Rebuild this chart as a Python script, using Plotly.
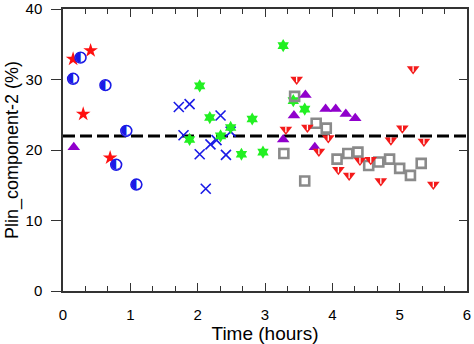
import plotly.graph_objects as go

# Time (hours) / Plin component-2 (%) per group
circ_x = [0.26, 0.15, 0.63, 0.94, 0.79, 1.09]
circ_y = [33.1, 30.1, 29.2, 22.7, 17.9, 15.1]

star_x = [0.15, 0.41, 0.30, 0.70]
star_y = [32.9, 34.1, 25.1, 18.9]

xm_x = [1.72, 1.88, 1.79, 2.34, 2.03, 2.19, 2.28, 2.42, 2.12, 2.49]
xm_y = [26.1, 26.5, 22.1, 24.9, 19.4, 20.8, 21.4, 19.3, 14.5, 22.6]

hex_x = [2.03, 2.18, 2.81, 2.49, 1.88, 2.34, 2.65, 2.97, 3.27, 3.42, 3.59]
hex_y = [29.1, 24.6, 24.4, 23.2, 21.5, 22.0, 19.4, 19.7, 34.8, 27.0, 25.8]

tri_x = [0.16, 3.27, 3.43, 3.60, 3.74, 3.90, 4.05, 4.20, 4.34]
tri_y = [20.4, 21.5, 24.9, 27.8, 20.4, 25.8, 25.8, 25.1, 24.5]

sq_x = [3.28, 3.44, 3.59, 3.76, 3.91, 4.07, 4.23, 4.38, 4.54, 4.69, 4.85, 5.00, 5.16, 5.32]
sq_y = [19.5, 27.6, 15.6, 23.8, 23.1, 18.7, 19.5, 19.7, 17.8, 18.3, 18.7, 17.4, 16.4, 18.1]

dtri_x = [3.31, 3.47, 3.63, 3.80, 3.94, 4.09, 4.25, 4.41, 4.57, 4.72, 4.87, 5.04, 5.20, 5.36, 5.50]
dtri_y = [22.9, 30.0, 23.2, 19.8, 21.7, 17.2, 16.4, 18.5, 18.6, 15.6, 21.4, 23.1, 31.5, 21.2, 15.1]

ref_x = [0, 6]
ref_y = [22, 22]

x_ticks = [0, 1, 2, 3, 4, 5, 6]
y_ticks = [0, 10, 20, 30, 40]
right_ticks = [10, 20, 30]

fig = go.Figure()

# reference level
fig.add_trace(go.Scatter(x=ref_x, y=ref_y, mode="lines",
                         line=dict(color="black", width=3, dash="12px,5px"),
                         hoverinfo="skip"))

fig.add_trace(go.Scatter(x=xm_x, y=xm_y, mode="markers",
                         marker=dict(symbol="x-thin-open", size=10, color="#1a1ae6",
                                     line=dict(width=1.6, color="#1a1ae6"))))

fig.add_trace(go.Scatter(x=hex_x, y=hex_y, mode="markers",
                         marker=dict(symbol="hexagram", size=10, color="#22f022",
                                     line=dict(width=0))))

fig.add_trace(go.Scatter(x=sq_x, y=sq_y, mode="markers",
                         marker=dict(symbol="square-open", size=9, color="#8a8a8a",
                                     line=dict(width=2.6, color="#8a8a8a"))))

fig.add_trace(go.Scatter(x=tri_x, y=tri_y, mode="markers",
                         marker=dict(symbol="triangle-up", size=11, color="#9000cc",
                                     line=dict(width=0))))

fig.add_trace(go.Scatter(x=dtri_x, y=dtri_y, mode="markers",
                         marker=dict(symbol="triangle-down", size=11, color="#f41a1a",
                                     line=dict(width=0))))
fig.add_trace(go.Scatter(x=dtri_x, y=dtri_y, mode="markers",
                         marker=dict(symbol="line-ns", size=4, color="white",
                                     line=dict(width=1.3, color="white"))))

fig.add_trace(go.Scatter(x=star_x, y=star_y, mode="markers",
                         marker=dict(symbol="star", size=11, color="#ff1010",
                                     line=dict(width=0))))

# half-filled circles
fig.add_trace(go.Scatter(x=circ_x, y=circ_y, mode="markers",
                         marker=dict(symbol="circle", size=11, color="white",
                                     line=dict(width=1.4, color="#1a1ae6"))))
fig.add_trace(go.Scatter(x=circ_x, y=circ_y, mode="text", text=["◐"] * len(circ_x),
                         textposition="middle center",
                         textfont=dict(family="DejaVu Sans", size=14, color="#1a1ae6")))

# right-hand axis carrying inward ticks
fig.add_trace(go.Scatter(x=ref_x, y=ref_y, mode="lines", yaxis="y2",
                         line=dict(width=0), opacity=0, hoverinfo="skip"))

axis_font = dict(family="Liberation Sans, Arial, sans-serif", size=15, color="black")

fig.update_layout(
    width=474, height=344,
    margin=dict(l=63, r=7, t=9, b=53),
    paper_bgcolor="white", plot_bgcolor="white",
    showlegend=False,
    font=axis_font,
    xaxis=dict(range=[0, 6], tickvals=x_ticks, ticks="inside", ticklen=8, tickwidth=1.2,
               tickcolor="#333", showline=True, linecolor="#333", linewidth=1.5,
               mirror="ticks", showgrid=False, zeroline=False, automargin=False,
               ticklabelstandoff=9,
               minor=dict(dtick=1 / 3, tick0=0, ticks="inside", ticklen=5,
                          tickwidth=1.2, tickcolor="#333", showgrid=False),
               title=dict(text="Time (hours)", font=dict(size=19), standoff=2)),
    yaxis=dict(range=[0, 40], tickvals=y_ticks, ticks="outside", ticklen=10, tickwidth=1.2,
               tickcolor="#333", showline=True, linecolor="#333", linewidth=1.5,
               mirror=False, showgrid=False, zeroline=False, ticklabelstandoff=6,
               automargin=False,
               title=dict(text="Plin_component-2 (%)", font=dict(size=18), standoff=2)),
    yaxis2=dict(range=[0, 40], overlaying="y", side="right", tickvals=right_ticks,
                ticks="inside", ticklen=8, tickwidth=1.2, tickcolor="#333",
                showline=True, linecolor="#333", linewidth=1.5, automargin=False,
                showticklabels=False, showgrid=False, zeroline=False),
)

fig.write_html("out.html")
